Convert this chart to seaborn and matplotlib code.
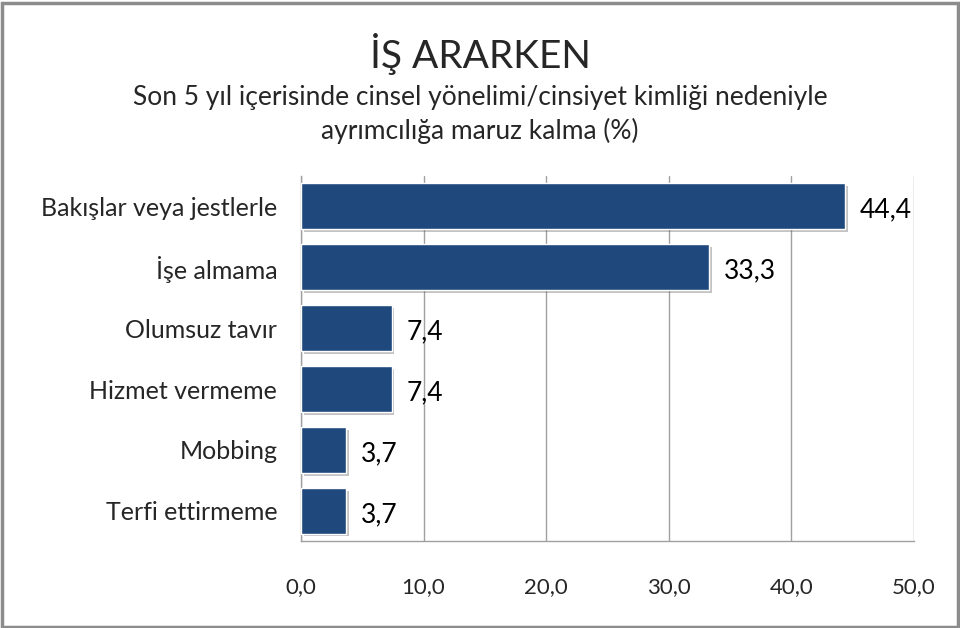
import matplotlib
matplotlib.use("Agg")
import matplotlib.pyplot as plt
import matplotlib.patheffects as pe
from matplotlib.patches import Rectangle
import seaborn as sns
import pandas as pd

categories = [
    "Bakışlar veya jestlerle",
    "İşe almama",
    "Olumsuz tavır",
    "Hizmet vermeme",
    "Mobbing",
    "Terfi ettirmeme",
]
values = [44.4, 33.3, 7.4, 7.4, 3.7, 3.7]
x_ticks = [0, 10, 20, 30, 40, 50]

title = "İŞ ARARKEN"
subtitle = "Son 5 yıl içerisinde cinsel yönelimi/cinsiyet kimliği nedeniyle\nayrımcılığa maruz kalma (%)"


def tr_num(v: float) -> str:
    """Format a number with a decimal comma"""
    return f"{v:.1f}".replace(".", ",")


def main():
    sns.set_style("white")
    plt.rcParams["font.family"] = ["Lato", "DejaVu Sans"]

    df = pd.DataFrame({"category": categories, "value": values})

    fig = plt.figure(figsize=(9.6, 6.28), dpi=100)
    ax = fig.add_axes([0.3135, 0.138, 0.6385, 0.582])

    sns.barplot(df, x="value", y="category", color="#1F497D", width=0.75,
                saturation=1, ax=ax, zorder=3)
    for bar in ax.patches:
        bar.set_edgecolor("white")
        bar.set_linewidth(1.0)
        bar.set_path_effects([
            pe.SimplePatchShadow(offset=(2, -2), shadow_rgbFace="#555555", alpha=0.35),
            pe.Normal(),
        ])

    for i, v in enumerate(values):
        ax.text(v + 1.2, i + 0.06, tr_num(v), va="center", ha="left",
                fontsize=19, color="black")

    ax.set_xlim(0, 50)
    ax.set_ylim(len(categories) - 0.5, -0.5)
    ax.set_xticks(x_ticks)
    ax.xaxis.set_major_formatter(lambda x, _: tr_num(x))
    ax.set_yticks(range(len(categories)))
    ax.set_yticks([i - 0.5 for i in range(len(categories) + 1)], minor=True)
    ax.tick_params(axis="y", which="major", length=0, pad=17, labelsize=18)
    ax.tick_params(axis="y", which="minor", length=5, color="#A0A0A0", width=1)
    ax.tick_params(axis="x", which="major", length=8, color="#A0A0A0", width=1,
                   pad=18, labelsize=16, direction="out")
    ax.xaxis.grid(True, color="#A0A0A0", linewidth=1, zorder=0)
    ax.set_axisbelow(True)
    for side in ["top", "right"]:
        ax.spines[side].set_visible(False)
    for side in ["left", "bottom"]:
        ax.spines[side].set_color("#A0A0A0")
        ax.spines[side].set_linewidth(1)
    ax.set_xlabel("")
    ax.set_ylabel("")

    fig.text(0.5, 0.914, title, ha="center", va="center", fontsize=28)
    fig.text(0.5, 0.818, subtitle, ha="center", va="center", fontsize=19,
             linespacing=1.35)

    fig.patches.append(Rectangle((0.002, 0.002), 0.996, 0.994,
                                 transform=fig.transFigure, fill=False,
                                 edgecolor="#8C8C8C", linewidth=2.5))

    fig.savefig("out.png", dpi=100)


if __name__ == "__main__":
    main()
